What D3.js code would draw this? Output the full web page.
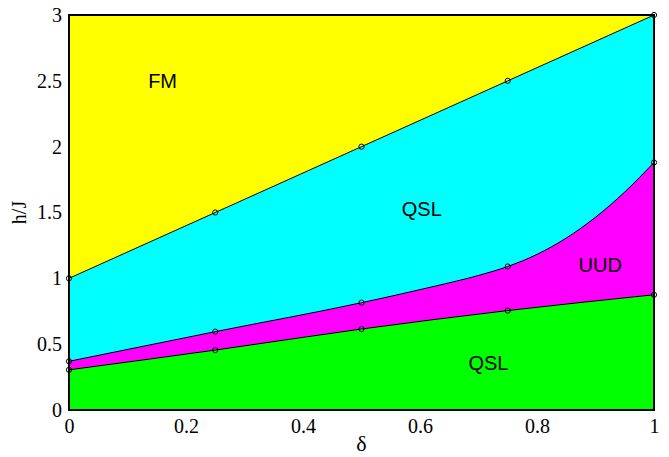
<!DOCTYPE html>
<html>
<head>
<meta charset="utf-8">
<script src="https://cdn.jsdelivr.net/npm/d3@7"></script>
<style>
  body { margin: 0; background: #fff; }
</style>
</head>
<body>
<div id="graph"></div>
<script>
// données (points marqués)
const delta = [0, 0.25, 0.5, 0.75, 1];
const fmBoundary = [1, 1.5, 2, 2.5, 3];
const uudTop = [0.37, 0.595, 0.815, 1.09, 1.88];
const uudBottom = [0.305, 0.455, 0.615, 0.755, 0.875];
// tracé lisse de la frontière haute UUD
const uudTopCurveX = [0, 0.25, 0.5, 0.625, 0.7, 0.75, 0.8, 0.85, 0.9, 0.95, 1];
const uudTopCurveY = [0.37, 0.595, 0.815, 0.94, 1.022, 1.09, 1.182, 1.306, 1.464, 1.656, 1.88];
const xTicks = [0, 0.2, 0.4, 0.6, 0.8, 1];
const yTicks = [0, 0.5, 1, 1.5, 2, 2.5, 3];
const regionLabels = [
  { text: "FM", x: 0.16, y: 2.5 },
  { text: "QSL", x: 0.603, y: 1.53 },
  { text: "UUD", x: 0.908, y: 1.1 },
  { text: "QSL", x: 0.717, y: 0.355 }
];

const margin = { top: 15, right: 15, bottom: 47, left: 69 };
const width = 669 - margin.left - margin.right,
      height = 457 - margin.top - margin.bottom;

const x = d3.scaleLinear().domain([0, 1]).range([0, width]);
const y = d3.scaleLinear().domain([0, 3]).range([height, 0]);

const svg = d3.select("#graph").append("svg")
  .attr("width", 669)
  .attr("height", 457)
  .append("g")
  .attr("transform", "translate(" + margin.left + "," + margin.top + ")");

const zip = (xs, ys) => xs.map((d, i) => [d, ys[i]]);

// fond jaune (FM)
svg.append("rect")
  .attr("width", width).attr("height", height)
  .attr("fill", "#ffff00");

const curve = d3.curveMonotoneX;

// zones empilées : cyan (QSL), magenta (UUD), vert (QSL)
const bounds = [
  { pts: zip(delta, fmBoundary), color: "#00ffff" },
  { pts: zip(uudTopCurveX, uudTopCurveY), color: "#ff00ff" },
  { pts: zip(delta, uudBottom), color: "#00ff00" }
];
const area = d3.area().x(d => x(d[0])).y0(y(0)).y1(d => y(d[1])).curve(curve);
bounds.forEach(b => {
  svg.append("path")
    .datum(b.pts)
    .attr("fill", b.color)
    .attr("d", area);
});

// lignes de frontière
const line = d3.line().x(d => x(d[0])).y(d => y(d[1])).curve(curve);
bounds.forEach(b => {
  svg.append("path")
    .datum(b.pts)
    .attr("fill", "none")
    .attr("stroke", "black")
    .attr("stroke-width", 1)
    .attr("d", line);
});

// points marqués
[fmBoundary, uudTop, uudBottom].forEach(arr => {
  svg.selectAll(null)
    .data(zip(delta, arr))
    .enter()
    .append("circle")
    .attr("cx", d => x(d[0]))
    .attr("cy", d => y(d[1]))
    .attr("r", 2.6)
    .attr("fill", "none")
    .attr("stroke", "black")
    .attr("stroke-width", 1);
});

// étiquettes des phases
svg.selectAll(null)
  .data(regionLabels)
  .enter()
  .append("text")
  .attr("x", d => x(d.x))
  .attr("y", d => y(d.y))
  .attr("text-anchor", "middle")
  .attr("dominant-baseline", "central")
  .style("font-family", "'Liberation Sans', Arial, sans-serif")
  .style("font-size", "20px")
  .text(d => d.text);

// cadre
svg.append("rect")
  .attr("width", width).attr("height", height)
  .attr("fill", "none")
  .attr("stroke", "black")
  .attr("stroke-width", 2);

// axes
const xAxis = svg.append("g")
  .attr("transform", "translate(0," + height + ")")
  .call(d3.axisBottom(x).tickValues(xTicks).tickSize(0).tickPadding(8).tickFormat(d3.format("")));
const yAxis = svg.append("g")
  .call(d3.axisLeft(y).tickValues(yTicks).tickSize(0).tickPadding(7).tickFormat(d3.format("")));

[xAxis, yAxis].forEach(a => {
  a.select(".domain").remove();
  a.selectAll("text")
    .style("font-family", "'Liberation Serif', 'Times New Roman', serif")
    .style("font-size", "20px")
    .attr("fill", "black");
});
xAxis.selectAll("text").attr("dy", "0.75em");

// titres des axes
svg.append("text")
  .attr("x", width / 2)
  .attr("y", height + 41)
  .attr("text-anchor", "middle")
  .style("font-family", "'Liberation Serif', 'Times New Roman', serif")
  .style("font-size", "22px")
  .text("δ");

svg.append("text")
  .attr("transform", "translate(" + (-43) + "," + (height / 2) + ") rotate(-90)")
  .attr("text-anchor", "middle")
  .style("font-family", "'Liberation Serif', 'Times New Roman', serif")
  .style("font-size", "20px")
  .text("h/J");
</script>
</body>
</html>
